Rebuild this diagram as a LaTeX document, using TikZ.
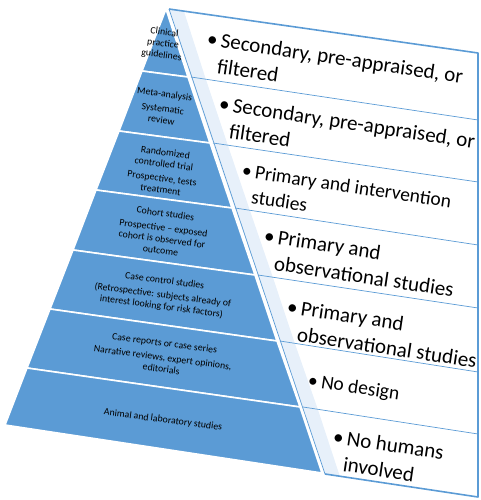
\documentclass[tikz,border=0pt]{standalone}
\usepackage{fontspec}
\setmainfont{Carlito}
\usetikzlibrary{calc}
\definecolor{pyrblue}{RGB}{91,155,213}
\definecolor{sidepale}{RGB}{231,240,250}
\tikzstyle{band} = [fill=pyrblue, draw=white, line width=1.6pt, line join=round]
\tikzstyle{level} = [font=\fontsize{9.8}{11.5}\selectfont, align=center, rotate=-7.5, text=black, inner sep=0pt]
\tikzstyle{side} = [fill=sidepale]
\tikzstyle{rowline} = [draw=pyrblue, line width=0.7pt]
\tikzstyle{frame} = [draw=pyrblue, line width=1.6pt, line join=round]
\tikzstyle{desc} = [font=\fontsize{21}{26}\selectfont, anchor=west, rotate=-8.5, inner sep=0pt]
\tikzstyle{descsmall} = [desc, font=\fontsize{19.5}{25}\selectfont]
\newcommand{\twolines}[2]{\begin{tabular}{@{}l@{\hspace{3.5pt}}l@{}}\textbullet & #1\\ & #2\end{tabular}}

\begin{document}
\begin{tikzpicture}[x=1pt, y=-1pt]

    \useasboundingbox (0,0) rectangle (481,500);

    % pyramid corners, left and right edge
    \coordinate (apex) at (166,9);
    \foreach \n/\xl/\yl/\xr/\yr in {1/142/71/188/77, 2/119/131/210/143, 3/96/190/232/208,
        4/73/250/255/275, 5/50/309/277/341, 6/27/368/300/407, 7/5/425/322/473} {
        \coordinate (l\n) at (\xl,\yl);
        \coordinate (r\n) at (\xr,\yr);
    }

    % panel corners, left and right edge
    \foreach \n/\xq/\yq/\ye in {0/169/9/53, 1/191/77/120, 2/213/143/182, 3/235/208/245,
        4/258/275/308, 5/280/341/372, 6/303/407/434, 7/325/474/497} {
        \coordinate (q\n) at (\xq,\yq);
        \coordinate (e\n) at (478,\ye);
    }

    \draw [band] (apex) -- (r1) -- (l1) -- cycle;
    \foreach \a/\b in {1/2, 2/3, 3/4, 4/5, 5/6, 6/7}
        \draw [band] (l\a) -- (r\a) -- (r\b) -- (l\b) -- cycle;

    \foreach \a/\b in {0/1, 1/2, 2/3, 3/4, 4/5, 5/6, 6/7}
        \fill [side] (q\a) -- ($(q\a)!15pt!(e\a)$) -- ($(q\b)!15pt!(e\b)$) -- (q\b) -- cycle;

    \foreach \n in {1,...,6}
        \draw [rowline] (q\n) -- (e\n);
    \draw [rowline] (q0) -- (q7);
    \draw [frame] (q0) -- (e0) -- (e7) -- (q7);

    \node [level] (lev1) at (163,44) {Clinical\\practice\\guidelines};
    \node [level] (lev2) at (163,107) {Meta-analysis\\[3pt]Systematic\\review};
    \node [level] (lev3) at (163,171) {Randomized\\controlled trial\\[3pt]Prospective, tests\\treatment};
    \node [level] (lev4) at (163,232) {Cohort studies\\[3pt]Prospective -- exposed\\cohort is observed for\\outcome};
    \node [level] (lev5) at (163,294) {Case control studies\\[3pt](Retrospective: subjects already of\\interest looking for risk factors)};
    \node [level] (lev6) at (163,356) {Case reports or case series\\[3pt]Narrative reviews, expert opinions,\\editorials};
    \node [level] (lev7) at (163,420) {Animal and laboratory studies};

    \node [desc] (desc1) at (205,53) {\twolines{Secondary, pre-appraised, or}{filtered}};
    \node [desc] (desc2) at (217,118) {\twolines{Secondary, pre-appraised, or}{filtered}};
    \node [descsmall] (desc3) at (240,184) {\twolines{Primary and intervention}{studies}};
    \node [desc] (desc4) at (262,250) {\twolines{Primary and}{observational studies}};
    \node [desc] (desc5) at (285,321) {\twolines{Primary and}{observational studies}};
    \node [descsmall] (desc6) at (308,381) {\textbullet\hspace{3.5pt}No design};
    \node [desc] (desc7) at (331,451) {\twolines{No humans}{involved}};

\end{tikzpicture}
\end{document}
